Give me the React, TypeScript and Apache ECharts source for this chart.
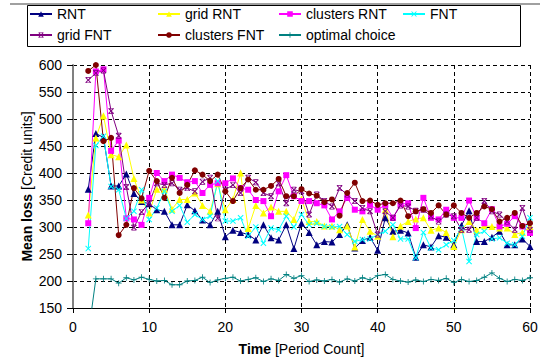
import React, { useEffect, useRef } from "react";
import * as echarts from "echarts";

const periods = [2, 3, 4, 5, 6, 7, 8, 9, 10, 11, 12, 13, 14, 15, 16, 17, 18, 19, 20, 21, 22, 23, 24, 25, 26, 27, 28, 29, 30, 31, 32, 33, 34, 35, 36, 37, 38, 39, 40, 41, 42, 43, 44, 45, 46, 47, 48, 49, 50, 51, 52, 53, 54, 55, 56, 57, 58, 59, 60];

const rnt = [370, 473, 466, 376, 376, 398, 362, 347, 343, 332, 329, 304, 304, 341, 330, 313, 304, 329, 282, 294, 290, 286, 276, 304, 280, 276, 304, 260, 307, 290, 267, 273, 272, 286, 304, 261, 275, 281, 257, 317, 292, 294, 289, 244, 267, 263, 284, 281, 267, 303, 330, 273, 273, 281, 292, 267, 267, 278, 264];
const gridRnt = [322, 465, 506, 434, 430, 452, 390, 350, 326, 370, 370, 333, 351, 351, 363, 340, 329, 380, 332, 351, 400, 297, 340, 326, 337, 329, 329, 314, 352, 310, 310, 302, 302, 295, 302, 263, 314, 292, 283, 332, 282, 302, 310, 315, 317, 294, 298, 290, 264, 295, 310, 294, 302, 301, 298, 298, 286, 290, 301];
const clustersRnt = [307, 588, 592, 441, 460, 316, 314, 304, 354, 400, 385, 397, 391, 383, 385, 363, 378, 381, 381, 390, 372, 369, 350, 348, 320, 366, 396, 357, 348, 348, 344, 340, 314, 329, 354, 332, 329, 341, 332, 341, 317, 342, 344, 298, 354, 317, 314, 332, 317, 317, 349, 317, 307, 333, 301, 306, 320, 301, 289];
const fnt = [260, 451, 468, 375, 369, 316, 329, 369, 314, 335, 366, 329, 340, 309, 323, 314, 320, 385, 311, 311, 317, 283, 300, 270, 298, 295, 320, 300, 323, 304, 307, 301, 300, 301, 286, 273, 277, 278, 286, 292, 304, 278, 278, 243, 290, 261, 258, 267, 275, 298, 236, 286, 292, 278, 280, 270, 267, 283, 317];
const gridFnt = [572, 585, 590, 515, 469, 374, 299, 328, 344, 381, 378, 381, 369, 372, 366, 384, 391, 316, 369, 378, 363, 391, 383, 363, 357, 381, 344, 369, 366, 323, 360, 348, 338, 372, 360, 348, 335, 329, 286, 329, 317, 340, 338, 330, 332, 320, 310, 323, 320, 295, 295, 317, 348, 329, 323, 310, 295, 335, 295];
const clustersFnt = [589, 600, 459, 465, 285, 304, 372, 353, 404, 385, 354, 391, 363, 378, 405, 397, 385, 397, 366, 348, 372, 388, 369, 369, 376, 389, 357, 357, 370, 362, 358, 346, 351, 321, 363, 382, 348, 349, 341, 344, 344, 349, 320, 329, 333, 326, 340, 323, 340, 326, 317, 326, 338, 333, 310, 317, 326, 302, 307];
const optimal = [100, 204, 204, 204, 196, 206, 202, 207, 203, 200, 201, 193, 193, 200, 201, 207, 197, 202, 205, 207, 200, 203, 206, 199, 204, 201, 212, 205, 210, 199, 202, 200, 203, 198, 204, 200, 206, 202, 210, 212, 203, 200, 198, 202, 199, 203, 201, 205, 197, 203, 199, 201, 207, 215, 205, 199, 203, 201, 206];

const xTicks = { min: 0, max: 60, interval: 10 };
const yTicks = { min: 150, max: 600, interval: 50 };

const FONT = "'Liberation Sans', Arial, sans-serif";
const X_SYM = "path://M0,1.2L1.2,0L5,3.8L8.8,0L10,1.2L6.2,5L10,8.8L8.8,10L5,6.2L1.2,10L0,8.8L3.8,5Z";
const STAR_SYM = "path://M0,1.2L1.2,0L5,3.8L8.8,0L10,1.2L6.2,5L10,8.8L8.8,10L5,6.2L1.2,10L0,8.8L3.8,5Z M1,0H9V1.2H1Z M1,8.8H9V10H1Z";
const PLUS_SYM = "path://M4.3,0H5.7V4.3H10V5.7H5.7V10H4.3V5.7H0V4.3H4.3Z";

const seriesDefs = [
  { name: "RNT", data: rnt, color: "#000080", symbol: "triangle", size: 7 },
  { name: "grid RNT", data: gridRnt, color: "#FFFF00", symbol: "triangle", size: 7 },
  { name: "clusters RNT", data: clustersRnt, color: "#FF00FF", symbol: "rect", size: 6 },
  { name: "FNT", data: fnt, color: "#00FFFF", symbol: X_SYM, size: 6 },
  { name: "grid FNT", data: gridFnt, color: "#800080", symbol: STAR_SYM, size: 6 },
  { name: "clusters FNT", data: clustersFnt, color: "#800000", symbol: "circle", size: 6 },
  { name: "optimal choice", data: optimal, color: "#008080", symbol: PLUS_SYM, size: 6 },
];

const legendPos = [
  { left: 29, top: 7 },
  { left: 157, top: 7 },
  { left: 278, top: 7 },
  { left: 402, top: 7 },
  { left: 29, top: 28 },
  { left: 157, top: 28 },
  { left: 278, top: 28 },
];

export default function App() {
  const ref = useRef<HTMLDivElement>(null);
  useEffect(() => {
    if (!ref.current) return;
    const chart = echarts.init(ref.current, undefined, { renderer: "svg" });
    const option: any = {
      animation: false,
      backgroundColor: "#ffffff",
      textStyle: { fontFamily: FONT },
      grid: { left: 73, right: 13, top: 65, bottom: 56, containLabel: false },
      legend: seriesDefs.map((s, i) => ({
        data: [s.name],
        left: legendPos[i].left,
        top: legendPos[i].top,
        padding: 0,
        itemGap: 0,
        itemWidth: 22,
        itemHeight: 7,
        selectedMode: false,
        textStyle: { fontFamily: FONT, fontSize: 14, color: "#000", padding: [0, 0, 0, 0] },
      })),
      graphic: [
        { type: "line", shape: { x1: 10, y1: 4, x2: 540, y2: 4 }, style: { stroke: "#808080", lineWidth: 1.5 }, silent: true },
        { type: "rect", shape: { x: 27.5, y: 5.5, width: 493, height: 41 }, style: { fill: "none", stroke: "#000", lineWidth: 1 }, silent: true },
      ],
      xAxis: {
        type: "value",
        ...xTicks,
        name: "{b|Time} [Period Count]",
        nameLocation: "middle",
        nameGap: 34,
        nameMoveOverlap: false,
        nameTextStyle: { fontFamily: FONT, fontSize: 14, color: "#000", rich: { b: { fontFamily: FONT, fontSize: 14, fontWeight: "bold", color: "#000" } } },
        axisLine: { show: true, lineStyle: { color: "#000", width: 1 } },
        axisTick: { show: true, length: 5, lineStyle: { color: "#000" } },
        axisLabel: { fontFamily: FONT, fontSize: 14, color: "#000", margin: 12 },
        splitLine: { show: true, lineStyle: { color: "#000", type: [4, 3], width: 1 } },
      },
      yAxis: {
        type: "value",
        ...yTicks,
        name: "{b|Mean loss} [Credit units]",
        nameLocation: "middle",
        nameRotate: 90,
        nameGap: 39,
        nameMoveOverlap: false,
        nameTextStyle: { fontFamily: FONT, fontSize: 14, color: "#000", rich: { b: { fontFamily: FONT, fontSize: 14, fontWeight: "bold", color: "#000" } } },
        axisLine: { show: true, lineStyle: { color: "#808080", width: 2 } },
        axisTick: { show: true, length: 6, lineStyle: { color: "#000" } },
        axisLabel: { fontFamily: FONT, fontSize: 14, color: "#000", margin: 11 },
        splitLine: { show: true, lineStyle: { color: "#000", type: [4, 3], width: 1 } },
      },
      series: seriesDefs.map((s) => ({
        name: s.name,
        type: "line",
        data: periods.map((p, i) => [p, s.data[i]]),
        symbol: s.symbol,
        symbolSize: s.size,
        showSymbol: true,
        clip: true,
        lineStyle: { color: s.color, width: 1 },
        itemStyle: { color: s.color, borderWidth: 0 },
        emphasis: { disabled: true },
      })),
    };
    chart.setOption(option);
    return () => chart.dispose();
  }, []);
  return <div ref={ref} style={{ width: 543, height: 364, position: "absolute", left: 0, top: 0 }} />;
}
